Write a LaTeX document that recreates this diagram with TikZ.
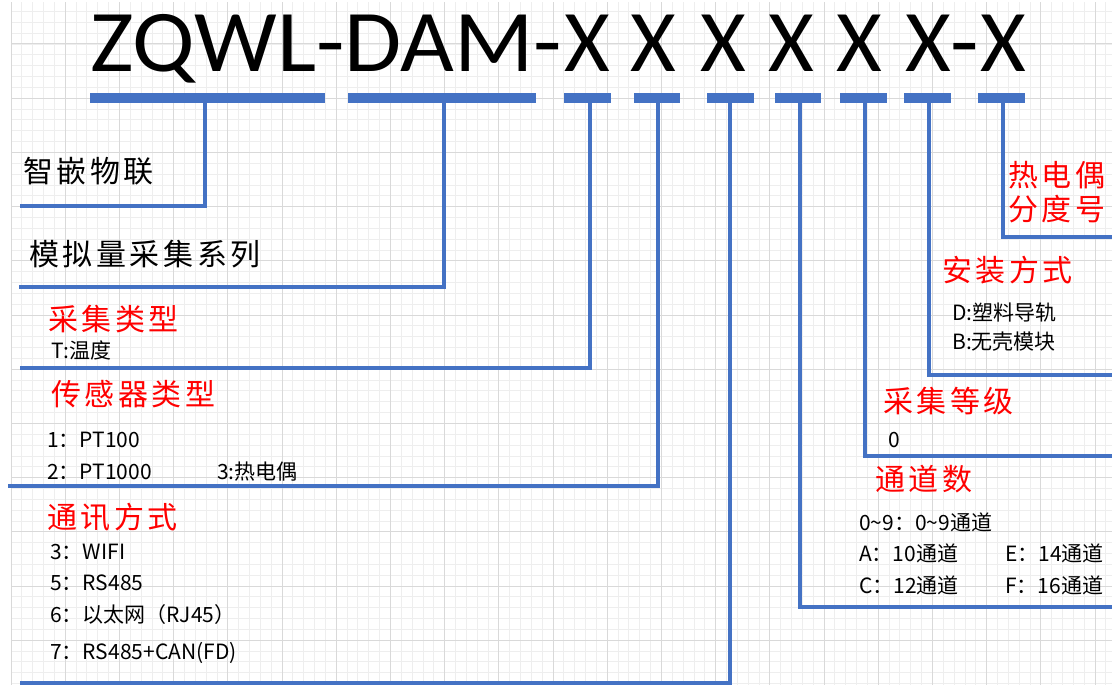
\documentclass[tikz,border=0pt]{standalone}
\usepackage{graphicx}
\usepackage{fontspec}
\newfontfamily\titlefont{Carlito}
\newfontfamily\cjk{Noto Sans CJK SC}
\newfontfamily\cjkls[LetterSpace=12]{Noto Sans CJK SC}
\definecolor{lineblue}{HTML}{4472C4}
\definecolor{minorgrid}{HTML}{EEEEEE}
\definecolor{majorgrid}{HTML}{D9D9D9}
\begin{document}
\begin{tikzpicture}[x=1pt,y=-1pt,
  bar/.style={line width=10pt, draw=lineblue},
  conn/.style={line width=3.6pt, draw=lineblue, line join=miter},
  ttl/.style={anchor=base west, inner sep=0pt, font=\titlefont\fontsize{88}{88}\selectfont},
  big/.style={font=\cjkls\fontsize{30}{34}\selectfont, anchor=west, inner sep=0pt, text height=22pt, text depth=2pt},
  head/.style={big, text=red},
  small/.style={font=\cjk\fontsize{21}{25}\selectfont, anchor=west, inner sep=0pt, text height=15pt, text depth=1pt}]
\useasboundingbox (0,0) rectangle (1112,685);
\fill[white] (0,0) rectangle (1112,685);
\begin{scope}
\clip (11,3) rectangle (1112,685);
\foreach \i in {0,...,102} \draw[minorgrid, line width=0.8pt] ({11+\i*10.84},0) -- ({11+\i*10.84},685);
\foreach \j in {0,...,63} \draw[minorgrid, line width=0.8pt] (0,{0.64+\j*10.84}) -- (1112,{0.64+\j*10.84});
\foreach \i in {0,...,20} \draw[majorgrid, line width=1pt] ({11+\i*54.2},0) -- ({11+\i*54.2},685);
\foreach \j in {0,...,11} \draw[majorgrid, line width=1pt] (0,{44+\j*54.2}) -- (1112,{44+\j*54.2});
\end{scope}

% title
\node[ttl] (title) at (90,72) {\scalebox{1.056}[1]{ZQWL-DAM-}};
\node[ttl] (x1) at (564,72) {X};
\node[ttl] (x2) at (630,72) {X};
\node[ttl] (x3) at (700,72) {X};
\node[ttl] (x4) at (768,72) {X};
\node[ttl] (x5) at (836.5,72) {X};
\node[ttl] (x6) at (905,72) {X};
\node[ttl] (dash) at (950,72) {\scalebox{1.056}[1]{-}};
\node[ttl] (x7) at (980.5,72) {X};

% bars
\coordinate (b1) at (205,98); \draw[bar] (90,98) -- (325,98);
\coordinate (b2) at (444,98); \draw[bar] (348,98) -- (536,98);
\coordinate (b3) at (590,98); \draw[bar] (564,98) -- (611,98);
\coordinate (b4) at (658,98); \draw[bar] (634,98) -- (680,98);
\coordinate (b5) at (730,98); \draw[bar] (707,98) -- (754,98);
\coordinate (b6) at (800,98); \draw[bar] (775,98) -- (821,98);
\coordinate (b7) at (865,98); \draw[bar] (840,98) -- (887,98);
\coordinate (b8) at (929,98); \draw[bar] (904,98) -- (951,98);
\coordinate (b9) at (1003,98); \draw[bar] (978,98) -- (1025,98);

% connector ends
\coordinate (e1) at (20,206);
\coordinate (e2) at (19,287);
\coordinate (e3) at (20,368);
\coordinate (e4) at (8,486);
\coordinate (e5) at (20,683);
\coordinate (e6) at (1112,607);
\coordinate (e7) at (1112,456);
\coordinate (e8) at (1112,375);
\coordinate (e9) at (1112,237);

\draw[conn] (b1) |- (e1);
\draw[conn] (b2) |- (e2);
\draw[conn] (b3) |- (e3);
\draw[conn] (b4) |- (e4);
\draw[conn] (b5) |- (e5);
\draw[conn] (b5 |- e5) -- ++(0,5);
\draw[conn] (b6) |- (e6);
\draw[conn] (b7) |- (e7);
\draw[conn] (b8) |- (e8);
\draw[conn] (b9) |- (e9);

% left labels
\node[big] (l1) at (23,172) {智嵌物联};
\node[big] (l2) at (29,255) {模拟量采集系列};
\node[head] (l3) at (48,320) {采集类型};
\node[small] (l3a) at (51,351) {T:温度};
\node[head] (l4) at (51,395) {传感器类型};
\node[small] (l4a) at (47,440) {1：PT100};
\node[small] (l4b) at (47,472) {2：PT1000};
\node[small] (l4c) at (217,472) {3:热电偶};
\node[head] (l5) at (47,518) {通讯方式};
\node[small] (l5a) at (50,552) {3：WIFI};
\node[small] (l5b) at (50,583) {5：RS485};
\node[small] (l5c) at (50,615) {6：以太网（RJ45）};
\node[small] (l5d) at (50,652) {7：RS485+CAN(FD)};

% right labels
\node[head, align=left, text height=, text depth=] (r9) at (1008,192) {热电偶\\分度号};
\node[head] (r8) at (942,271) {安装方式};
\node[small] (r8a) at (952,313) {D:塑料导轨};
\node[small] (r8b) at (952,342) {B:无壳模块};
\node[head] (r7) at (883,402) {采集等级};
\node[small] (r7a) at (888,440) {0};
\node[head] (r6) at (875,480) {通道数};
\node[small] (r6a) at (859,523) {0\textasciitilde9：0\textasciitilde9通道};
\node[small] (r6b) at (859,554) {A：10通道};
\node[small] (r6c) at (1005,554) {E：14通道};
\node[small] (r6d) at (859,586) {C：12通道};
\node[small] (r6e) at (1005,586) {F：16通道};
\end{tikzpicture}
\end{document}
